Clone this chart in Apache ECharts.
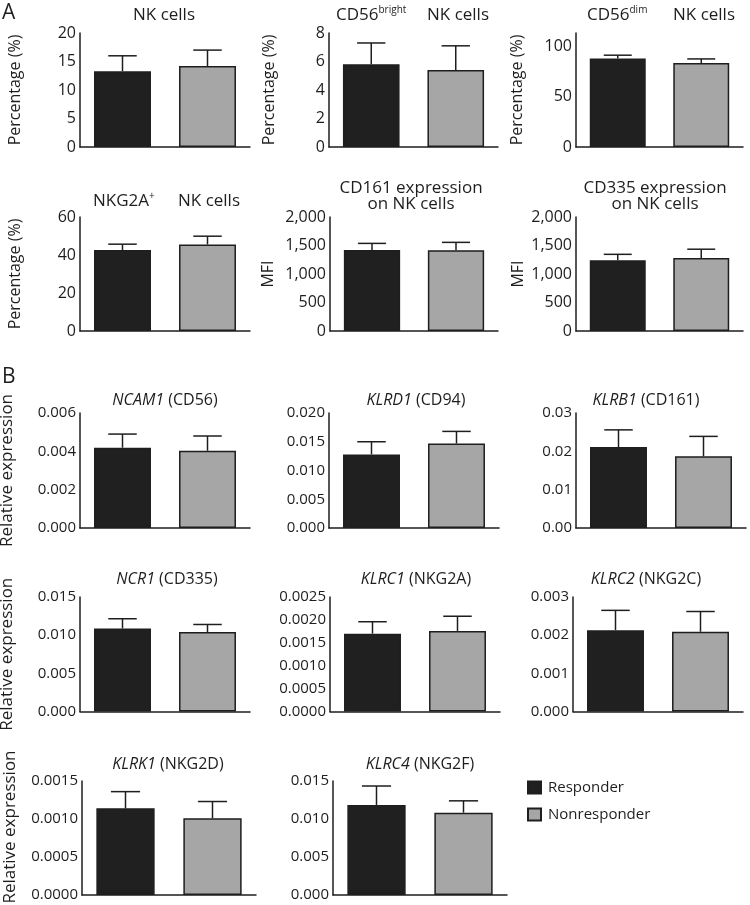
<!DOCTYPE html>
<html>
<head>
<meta charset="utf-8">
<script src="https://cdn.jsdelivr.net/npm/echarts@6/dist/echarts.min.js"></script>
<style>
html,body{margin:0;padding:0;background:#fff;}
#chart{width:750px;height:905px;}
</style>
</head>
<body>
<div id="chart"></div>
<script>
// ---------- data ----------
const groups = ['Responder', 'Nonresponder'];

const nkMean = [13.3, 14.2],        nkSem = [2.7, 2.8];
const brightMean = [5.8, 5.4],      brightSem = [1.5, 1.7];
const dimMean = [87.7, 83.3],       dimSem = [3.3, 4.0];
const nkg2aMean = [42.6, 45.5],     nkg2aSem = [3.1, 4.4];
const cd161Mean = [1419, 1415],     cd161Sem = [118, 140];
const cd335Mean = [1240, 1280],     cd335Sem = [105, 155];

const ncam1Mean = [0.00419, 0.00403], ncam1Sem = [0.00071, 0.00077];
const klrd1Mean = [0.0128, 0.0147],   klrd1Sem = [0.0022, 0.0021];
const klrb1Mean = [0.0211, 0.0187],   klrb1Sem = [0.0045, 0.0052];
const ncr1Mean = [0.01088, 0.0104],   ncr1Sem = [0.00127, 0.0010];
const klrc1Mean = [0.0017, 0.00176],  klrc1Sem = [0.00026, 0.00032];
const klrc2Mean = [0.00213, 0.00209], klrc2Sem = [0.00052, 0.00053];
const klrk1Mean = [0.00114, 0.00101], klrk1Sem = [0.00022, 0.00022];
const klrc4Mean = [0.01185, 0.01083], klrc4Sem = [0.00249, 0.00156];

// axis scales: [max, step, decimals]
const nkAxis = [20, 5, 0];
const brightAxis = [8, 2, 0];
const dimAxis = [113, 50, 0];
const nkg2aAxis = [60, 20, 0];
const cd161Axis = [2000, 500, 0];
const cd335Axis = [2000, 500, 0];
const ncam1Axis = [0.006, 0.002, 3];
const klrd1Axis = [0.020, 0.005, 3];
const klrb1Axis = [0.03, 0.01, 2];
const ncr1Axis = [0.015, 0.005, 3];
const klrc1Axis = [0.0025, 0.0005, 4];
const klrc2Axis = [0.003, 0.001, 3];
const klrk1Axis = [0.0015, 0.0005, 4];
const klrc4Axis = [0.015, 0.005, 3];

// ---------- layout ----------
const FONT = '"Open Sans", "DejaVu Sans", sans-serif';
const INK = '#1e1e1e';
const panels = [
  {m: nkMean, s: nkSem, ax: nkAxis, box: [80, 33, 170, 114], name: 'Percentage (%)', gap: 57, fs: 16, comma: false},
  {m: brightMean, s: brightSem, ax: brightAxis, box: [329, 33, 169, 114], name: 'Percentage (%)', gap: 52, fs: 16},
  {m: dimMean, s: dimSem, ax: dimAxis, box: [576, 33, 167, 114], name: 'Percentage (%)', gap: 51, fs: 16},
  {m: nkg2aMean, s: nkg2aSem, ax: nkg2aAxis, box: [80, 217, 170, 114], name: 'Percentage (%)', gap: 57, fs: 16},
  {m: cd161Mean, s: cd161Sem, ax: cd161Axis, box: [330, 217, 168, 114], name: 'MFI', gap: 54, fs: 16, comma: true},
  {m: cd335Mean, s: cd335Sem, ax: cd335Axis, box: [576, 217, 167, 114], name: 'MFI', gap: 50, fs: 16, comma: true},
  {m: ncam1Mean, s: ncam1Sem, ax: ncam1Axis, box: [80, 413, 170, 115], name: 'Relative expression', gap: 64, fs: 15},
  {m: klrd1Mean, s: klrd1Sem, ax: klrd1Axis, box: [329, 413, 170, 115], name: '', gap: 0, fs: 15},
  {m: klrb1Mean, s: klrb1Sem, ax: klrb1Axis, box: [576, 413, 170, 115], name: '', gap: 0, fs: 15},
  {m: ncr1Mean, s: ncr1Sem, ax: ncr1Axis, box: [80, 597, 170, 114.5], name: 'Relative expression', gap: 64, fs: 15},
  {m: klrc1Mean, s: klrc1Sem, ax: klrc1Axis, box: [330, 597, 170, 114.5], name: '', gap: 0, fs: 15},
  {m: klrc2Mean, s: klrc2Sem, ax: klrc2Axis, box: [573, 597, 170, 114.5], name: '', gap: 0, fs: 15},
  {m: klrk1Mean, s: klrk1Sem, ax: klrk1Axis, box: [82, 781, 174, 114], name: 'Relative expression', gap: 63, fs: 15, shift: 22},
  {m: klrc4Mean, s: klrc4Sem, ax: klrc4Axis, box: [333, 781, 174, 114], name: '', gap: 0, fs: 15}
];

const grid = [], xAxis = [], yAxis = [], series = [];
panels.forEach((p, i) => {
  const [left, top, width, height] = p.box;
  grid.push({left, top, width, height, containLabel: false, outerBoundsMode: 'none'});
  xAxis.push({
    type: 'category', gridIndex: i, data: groups,
    axisLine: {lineStyle: {color: INK, width: 1.5}},
    axisTick: {show: false}, axisLabel: {show: false}
  });
  const [max, step, dec] = p.ax;
  yAxis.push({
    type: 'value', gridIndex: i, min: 0, max, interval: step,
    splitLine: {show: false}, axisTick: {show: false},
    axisLine: {show: true, lineStyle: {color: INK, width: 1.5}},
    axisLabel: {
      color: INK, fontFamily: FONT, fontSize: p.fs, margin: 4,
      formatter: v => {
        const r = v / step;
        if (Math.abs(r - Math.round(r)) > 1e-6) return '';
        if (p.comma) return Math.round(v).toLocaleString('en-US');
        return v.toFixed(dec);
      }
    },
    name: p.name, nameLocation: 'middle', nameGap: p.gap,
    nameTextStyle: {color: INK, fontFamily: FONT,
      fontSize: p.name === 'Relative expression' ? 17 : 16,
      padding: [0, 0, 0, p.shift || 0]}
  });
  series.push({
    name: 'Responder', type: 'bar', xAxisIndex: i, yAxisIndex: i,
    barWidth: '67%', barGap: '-100%',
    data: [p.m[0], '-'],
    itemStyle: {color: '#202020', borderColor: INK, borderWidth: 1.5}
  });
  series.push({
    name: 'Nonresponder', type: 'bar', xAxisIndex: i, yAxisIndex: i,
    barWidth: '67%', barGap: '-100%',
    data: ['-', p.m[1]],
    itemStyle: {color: '#a6a6a6', borderColor: INK, borderWidth: 1.5}
  });
  series.push({
    type: 'custom', xAxisIndex: i, yAxisIndex: i, z: 5, silent: true,
    encode: {x: 0, y: [1, 2]},
    data: p.m.map((mv, k) => [k, mv, mv + p.s[k]]),
    renderItem: (params, api) => {
      const k = api.value(0);
      const a = api.coord([k, api.value(1)]);
      const b = api.coord([k, api.value(2)]);
      const band = api.size([1, 0])[0];
      const half = band * 0.67 * 0.25;
      const st = {stroke: INK, lineWidth: 1.5};
      return {type: 'group', children: [
        {type: 'line', shape: {x1: a[0], y1: a[1], x2: b[0], y2: b[1]}, style: st},
        {type: 'line', shape: {x1: b[0] - half, y1: b[1], x2: b[0] + half, y2: b[1]}, style: st}
      ]};
    }
  });
});

// ---------- titles ----------
const tStyle = {color: INK, fontFamily: FONT, fontSize: 17, fontWeight: 'normal', lineHeight: 20,
  rich: {
    m: {color: INK, fontFamily: FONT, fontSize: 17, lineHeight: 20},
    s: {color: INK, fontFamily: FONT, fontSize: 10, lineHeight: 20, verticalAlign: 'top', padding: [0, 0, 6, 0]},
    i: {color: INK, fontFamily: FONT, fontSize: 16, fontStyle: 'italic', lineHeight: 20},
    n: {color: INK, fontFamily: FONT, fontSize: 16, lineHeight: 20}
  }};
function T(text, left, top, align, extra) {
  return Object.assign({text, left, top, textAlign: align || 'left', padding: 0,
    textStyle: Object.assign({}, tStyle, extra || {})});
}
const titles = [
  T('A', 2, 1, 'left', {fontSize: 21, lineHeight: 24}),
  T('B', 2, 365, 'left', {fontSize: 21, lineHeight: 24}),
  T('NK cells', 164, 5, 'center'),
  T('{m|CD56}{s|bright}', 336, 5),
  T('NK cells', 427, 5),
  T('{m|CD56}{s|dim}', 587, 5),
  T('NK cells', 673, 5),
  T('{m|NKG2A}{s|+}', 93, 191),
  T('NK cells', 178, 191),
  T('CD161 expression\non NK cells', 411, 180, 'center', {lineHeight: 16}),
  T('CD335 expression\non NK cells', 655, 180, 'center', {lineHeight: 16}),
  T('{i|NCAM1}{n| (CD56)}', 165, 390, 'center'),
  T('{i|KLRD1}{n| (CD94)}', 416, 390, 'center'),
  T('{i|KLRB1}{n| (CD161)}', 646, 390, 'center'),
  T('{i|NCR1}{n| (CD335)}', 167, 569, 'center'),
  T('{i|KLRC1}{n| (NKG2A)}', 416, 569, 'center'),
  T('{i|KLRC2}{n| (NKG2C)}', 646, 569, 'center'),
  T('{i|KLRK1}{n| (NKG2D)}', 168, 754, 'center'),
  T('{i|KLRC4}{n| (NKG2F)}', 420, 754, 'center')
];

const chart = echarts.init(document.getElementById('chart'), null, {renderer: 'canvas'});
chart.setOption({
  animation: false,
  backgroundColor: '#fff',
  title: titles,
  legend: {
    data: groups, orient: 'vertical', left: 527, top: 780, padding: 0,
    icon: 'rect', itemWidth: 13, itemHeight: 12, itemGap: 12,
    textStyle: {color: INK, fontFamily: FONT, fontSize: 15, lineHeight: 14, padding: [0, 0, 0, 2]},
    selectedMode: false
  },
  grid, xAxis, yAxis, series
});
</script>
</body>
</html>
